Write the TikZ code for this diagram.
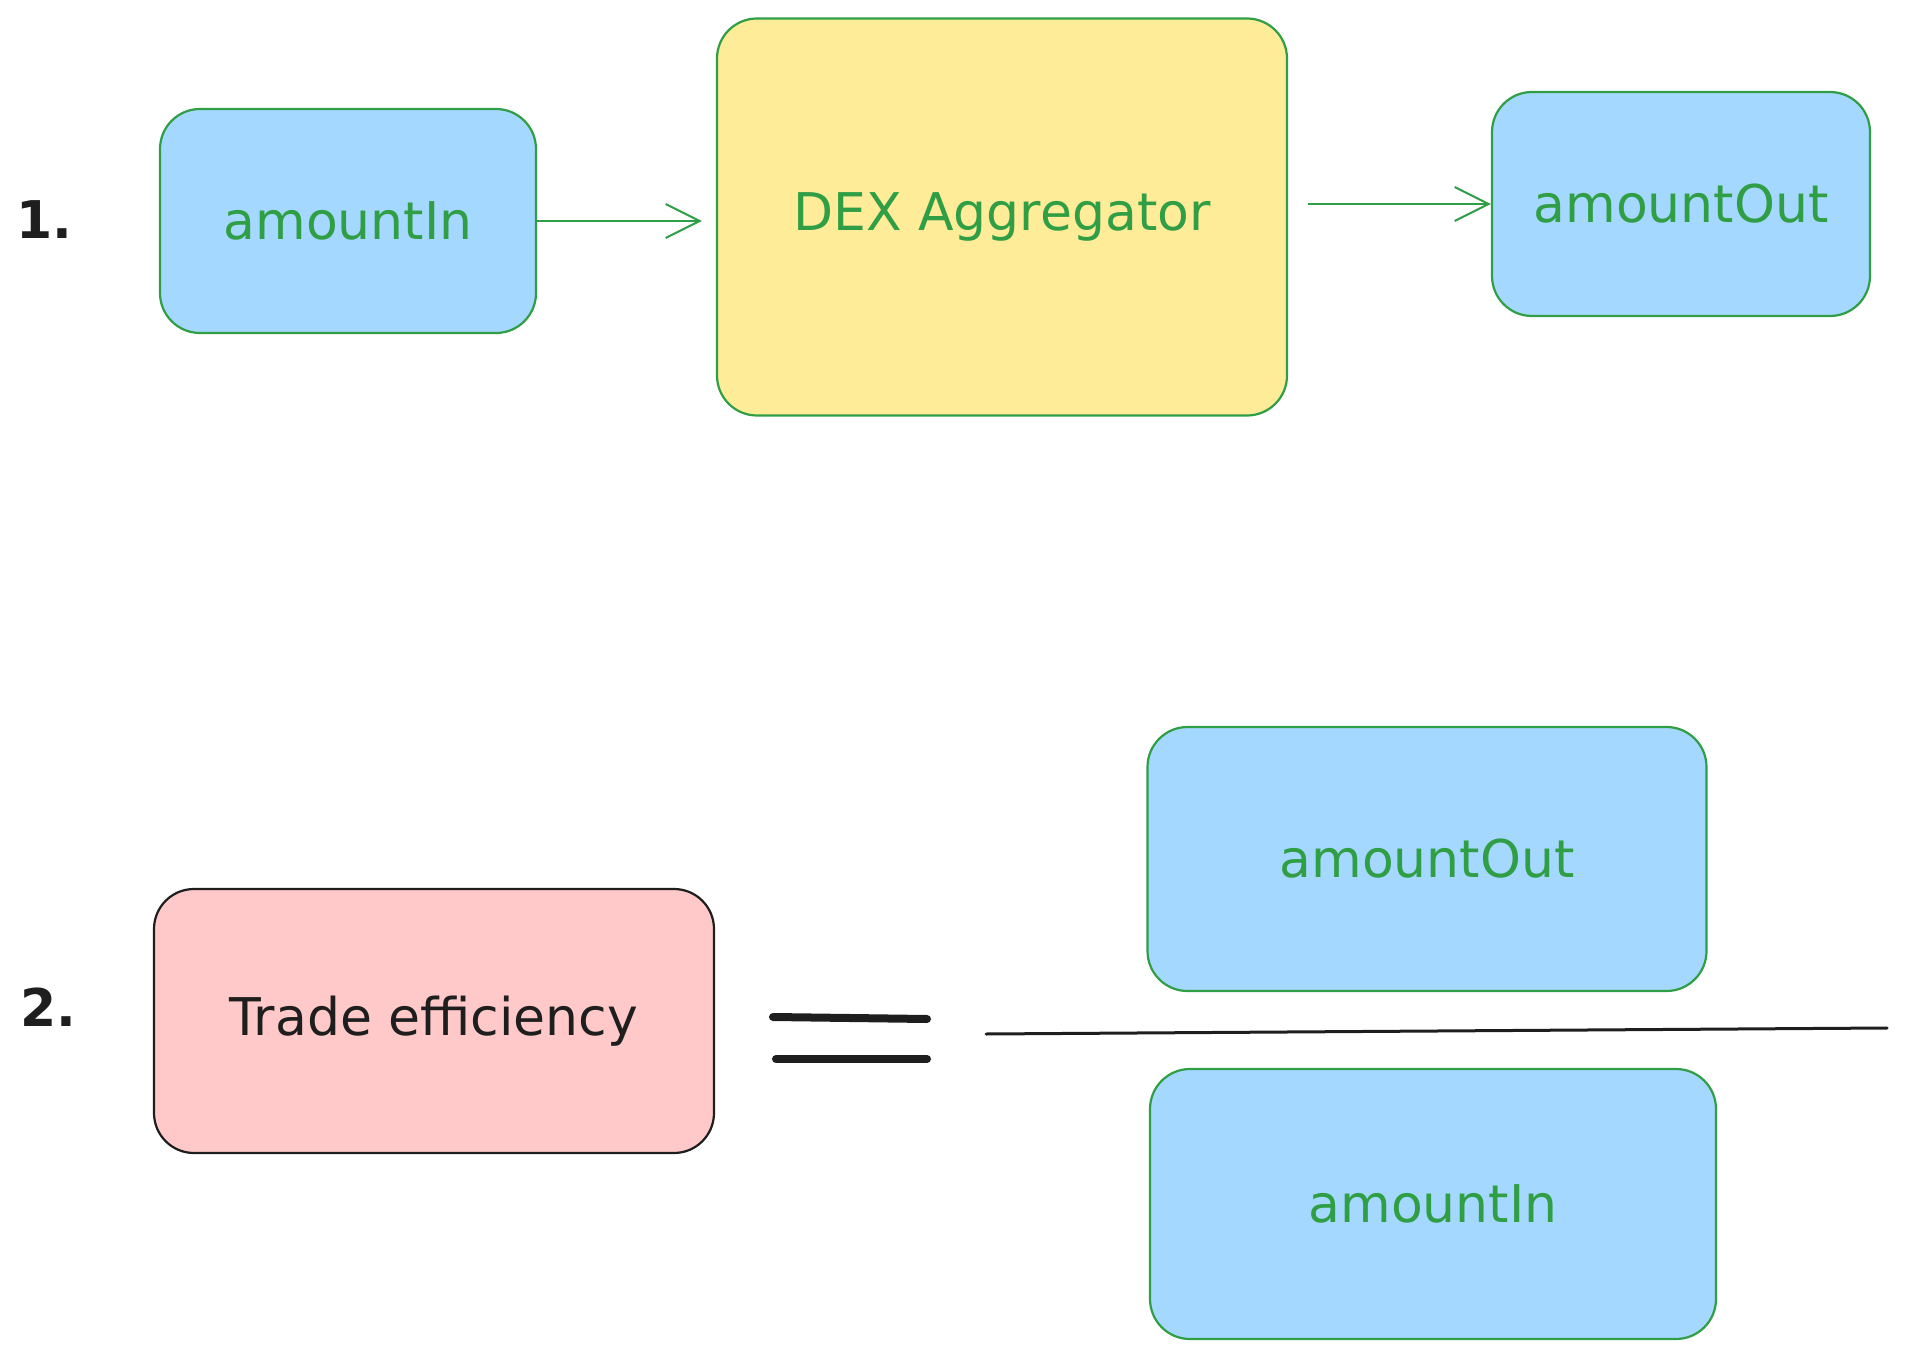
\documentclass[tikz,border=0pt]{standalone}
\usepackage{fontspec}
\setmainfont{DejaVu Sans}
\usetikzlibrary{arrows.meta}
\definecolor{skyfill}{HTML}{A5D8FF}
\definecolor{sunfill}{HTML}{FFEC99}
\definecolor{rosefill}{HTML}{FFC9C9}
\definecolor{leaf}{HTML}{2F9E44}
\definecolor{ink}{HTML}{1E1E1E}
\tikzset{
  card/.style={draw=leaf, line width=1.1pt, rounded corners=20pt, text=leaf, font=\fontsize{26}{30}\selectfont},
  flow/.style={draw=leaf, line width=1pt, -{Straight Barb[length=17pt,width=17pt]}}
}

\begin{document}
\begin{tikzpicture}[x=0.5pt,y=-0.5pt]
\useasboundingbox (0,0) rectangle (1906,1353);
\node[font=\bfseries\fontsize{26}{30}\selectfont, text=ink] (n1) at (44,220) {1.};
\node[card, fill=skyfill, minimum width=188pt, minimum height=112pt] (inA) at (348,221) {amountIn};
\node[card, fill=sunfill, minimum width=285pt, minimum height=198.5pt] (dex) at (1002,217) {DEX Aggregator};
\node[card, fill=skyfill, minimum width=189pt, minimum height=112pt] (outA) at (1681,204) {amountOut};
\draw[flow, shorten >=7pt] (inA.east) -- (inA.east -| dex.west);
\draw[flow, shorten <=10pt] (outA.west -| dex.east) -- (outA.west);
\node[font=\bfseries\fontsize{26}{30}\selectfont, text=ink] (n2) at (48,1007) {2.};
\node[card, draw=ink, text=ink, fill=rosefill, minimum width=280pt, minimum height=132pt] (trade) at (434,1021) {Trade efficiency};
\draw[ink, line width=4pt, line cap=round] (773,1017) -- (927,1019);
\draw[ink, line width=4pt, line cap=round] (776,1059) -- (927,1059);
\node[card, fill=skyfill, minimum width=279.5pt, minimum height=132pt] (outB) at (1427,859) {amountOut};
\draw[ink, line width=1.5pt, line cap=round] (986,1034) -- (1887,1028);
\node[card, fill=skyfill, minimum width=283pt, minimum height=135pt] (inB) at (1433,1204) {amountIn};
\end{tikzpicture}
\end{document}
